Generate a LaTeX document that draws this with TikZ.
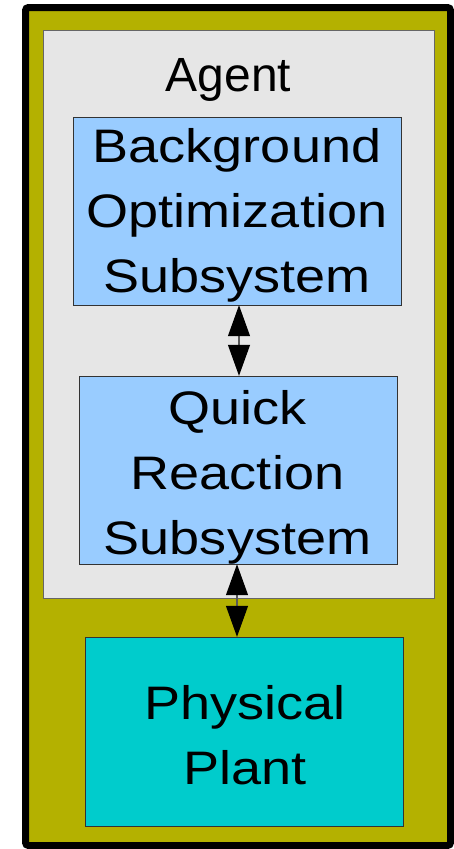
\documentclass[tikz,border=0pt]{standalone}
\usepackage{fontspec}
\setmainfont{Liberation Sans}
\newfontfamily\boxfont[FakeStretch=1.15]{Liberation Sans}
\usetikzlibrary{arrows.meta}
\definecolor{frameolive}{RGB}{180,177,0}
\definecolor{agentgrey}{RGB}{230,230,230}
\definecolor{subblue}{RGB}{153,204,255}
\definecolor{plantcyan}{RGB}{0,204,204}
\begin{document}
\begin{tikzpicture}[x=1pt, y=-1pt,
    subbox/.style={draw=black!80, fill=subblue, inner sep=0pt},
    boxtext/.style={align=center, inner sep=0pt, font=\boxfont\fontsize{47}{65}\selectfont},
    link/.style={{Triangle[width=22pt,length=31pt,black]}-{Triangle[width=22pt,length=31pt,black]}, black!65, line width=1.2pt}]
    \useasboundingbox (0,0) rectangle (454,849);
    % Nodes
    \node[draw, line width=7pt, fill=frameolive, rounded corners=3pt, minimum width=425pt, minimum height=838pt] (frame) at (238,426.5) {};
    \node[draw=black!60, fill=agentgrey, line width=1pt, minimum width=391pt, minimum height=568pt] (agent) at (238.5,314) {};
    \node[font=\fontsize{48}{58}\selectfont] (agentlabel) at (228.5,80) {Agent};
    \node[subbox, minimum width=328pt, minimum height=188pt] (optim) at (237,211) {};
    \node[subbox, minimum width=318pt, minimum height=188pt] (quick) at (238,470) {};
    \node[subbox, fill=plantcyan, minimum width=318pt, minimum height=189pt] (plant) at (244,731.5) {};
    \node[boxtext] (optimtext) at (237,215.8) {Background\\Optimization\\Subsystem};
    \node[boxtext] (quicktext) at (237.5,477.8) {Quick\\Reaction\\Subsystem};
    \node[boxtext] (planttext) at (245,735.3) {Physical\\Plant};

    % Arrows
    \draw[link] ([xshift=2pt]optim.south) -- ([xshift=2pt]optim.south |- quick.north);
    \draw[link] ([xshift=-1pt]quick.south) -- ([xshift=-1pt]quick.south |- plant.north);
\end{tikzpicture}
\end{document}
